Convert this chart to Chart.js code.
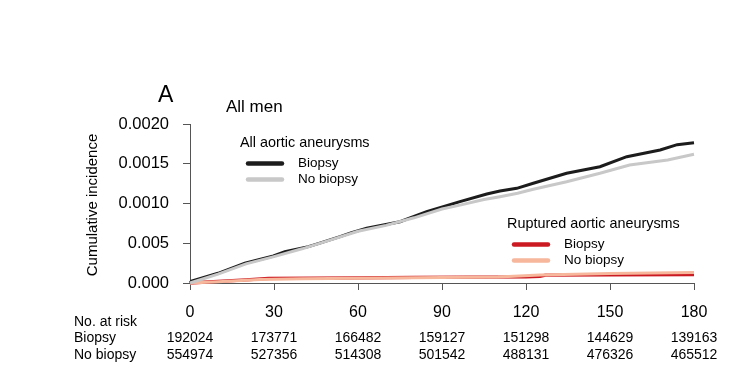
<!DOCTYPE html>
<html>
<head>
<meta charset="utf-8">
<script src="https://cdn.jsdelivr.net/npm/chart.js@4.4.1/dist/chart.umd.min.js"></script>
<style>
  html, body { margin: 0; padding: 0; background: #ffffff; }
  #wrap { width: 745px; height: 376px; }
</style>
</head>
<body>
<div id="wrap"><canvas id="c" width="745" height="376"></canvas></div>
<script>
// ---- Data ----
const xTickValues = [0, 30, 60, 90, 120, 150, 180];
const xTickLabels = ['0', '30', '60', '90', '120', '150', '180'];
const yTickLabels = ['0.000', '0.005', '0.0010', '0.0015', '0.0020'];

// All aortic aneurysms, Biopsy (black)
const allBiopsyDays = [0, 0.6, 10, 19.6, 29.8, 33.9, 42.3, 45.8, 53.6, 57.7, 63.1, 75, 84.5, 96.4, 106, 110.7, 116.7, 122.6, 134.5, 146.4, 156, 167.9, 174, 180];
const allBiopsyVals = [0, 0.000025, 0.000122, 0.000248, 0.00034, 0.000394, 0.000457, 0.000495, 0.000583, 0.000633, 0.000688, 0.000771, 0.000897, 0.001023, 0.00112, 0.001157, 0.001191, 0.001254, 0.00138, 0.001463, 0.001589, 0.001673, 0.00174, 0.001765];

// All aortic aneurysms, No biopsy (grey)
const allNoBiopsyDays = [0, 10, 20, 30, 40, 50, 60, 70, 80, 90, 96.4, 105, 110.7, 117, 122.6, 134.5, 146.4, 157, 170.6, 180];
const allNoBiopsyVals = [0, 0.000112, 0.00024, 0.000332, 0.00043, 0.00054, 0.00065, 0.000725, 0.00082, 0.00093, 0.00098, 0.00105, 0.001086, 0.00113, 0.001179, 0.001274, 0.00138, 0.001484, 0.001547, 0.001619];

// Ruptured aortic aneurysms, Biopsy (red)
const rupBiopsyDays = [0, 10, 20, 28, 45, 60, 80, 100, 120, 125, 127, 150, 180];
const rupBiopsyVals = [0, 0.00002, 0.00004, 0.000058, 0.00006, 0.000065, 0.00007, 0.000073, 0.000078, 0.000085, 0.0001, 0.000103, 0.000105];

// Ruptured aortic aneurysms, No biopsy (pink)
const rupNoBiopsyDays = [0, 10, 25, 40, 60, 90, 110, 125, 150, 180];
const rupNoBiopsyVals = [0, 0.000016, 0.000044, 0.000054, 0.00006, 0.00007, 0.000077, 0.0001, 0.00012, 0.000132];

// Number at risk table
const riskDays = [0, 30, 60, 90, 120, 150, 180];
const riskBiopsy = ['192024', '173771', '166482', '159127', '151298', '144629', '139163'];
const riskNoBiopsy = ['554974', '527356', '514308', '501542', '488131', '476326', '465512'];

// ---- Styles ----
const FONT = '"Liberation Sans", Arial, Helvetica, sans-serif';
const C_BLACK = '#1c1c1c';
const C_GREY = '#c8c8c8';
const C_RED = '#cc1a22';
const C_PINK = '#f6b79d';
const AXIS_C = '#555555';

function pts(days, vals) { return days.map((d, i) => ({ x: d, y: vals[i] })); }

const overlay = {
  id: 'overlay',
  afterDraw(chart) {
    const ctx = chart.ctx;
    const xs = chart.scales.x;
    ctx.save();
    ctx.fillStyle = '#000';
    ctx.textBaseline = 'alphabetic';

    // Panel letter and title
    ctx.font = '23px ' + FONT;
    ctx.textAlign = 'left';
    ctx.fillText('A', 158, 102);
    ctx.font = '17px ' + FONT;
    ctx.fillText('All men', 226, 112);

    // Y axis title
    ctx.save();
    ctx.translate(97, 205);
    ctx.rotate(-Math.PI / 2);
    ctx.textAlign = 'center';
    ctx.font = '15px ' + FONT;
    ctx.fillText('Cumulative incidence', 0, 0);
    ctx.restore();

    // Legends
    function legendLine(x1, x2, y, color) {
      ctx.beginPath();
      ctx.strokeStyle = color;
      ctx.lineWidth = 4.5;
      ctx.lineCap = 'round';
      ctx.moveTo(x1, y); ctx.lineTo(x2, y); ctx.stroke();
    }
    ctx.textAlign = 'left';
    ctx.font = '14.4px ' + FONT;
    ctx.fillText('All aortic aneurysms', 240, 147);
    ctx.fillText('Ruptured aortic aneurysms', 507, 228);
    ctx.font = '13.5px ' + FONT;
    ctx.textBaseline = 'middle';
    legendLine(248, 282, 163.5, C_BLACK);
    legendLine(248, 282, 179.5, C_GREY);
    ctx.fillText('Biopsy', 298, 163.5);
    ctx.fillText('No biopsy', 298, 179.5);
    legendLine(514, 548, 244.5, C_RED);
    legendLine(514, 548, 260.5, C_PINK);
    ctx.fillText('Biopsy', 564, 244.5);
    ctx.fillText('No biopsy', 564, 260.5);

    // Number at risk table
    ctx.textBaseline = 'alphabetic';
    ctx.font = '14px ' + FONT;
    ctx.textAlign = 'left';
    ctx.fillText('No. at risk', 74, 325.7);
    ctx.fillText('Biopsy', 74, 342);
    ctx.fillText('No biopsy', 74, 358.5);
    ctx.textAlign = 'center';
    riskDays.forEach((d, i) => {
      const px = xs.getPixelForValue(d);
      ctx.fillText(riskBiopsy[i], px, 342);
      ctx.fillText(riskNoBiopsy[i], px, 358.5);
    });
    ctx.restore();
  }
};

const axisCommon = {
  grid: { drawOnChartArea: false, drawTicks: true, tickLength: 7, color: AXIS_C, lineWidth: 1 },
  border: { display: true, color: AXIS_C, width: 1 }
};

new Chart(document.getElementById('c'), {
  type: 'line',
  data: {
    datasets: [
      { label: 'All – No biopsy', data: pts(allNoBiopsyDays, allNoBiopsyVals), borderColor: C_GREY, borderWidth: 3, pointRadius: 0, tension: 0, clip: 6 },
      { label: 'All – Biopsy', data: pts(allBiopsyDays, allBiopsyVals), borderColor: C_BLACK, borderWidth: 3, pointRadius: 0, tension: 0, clip: 6 },
      { label: 'Ruptured – No biopsy', data: pts(rupNoBiopsyDays, rupNoBiopsyVals), borderColor: C_PINK, borderWidth: 3, pointRadius: 0, tension: 0, clip: 6 },
      { label: 'Ruptured – Biopsy', data: pts(rupBiopsyDays, rupBiopsyVals), borderColor: C_RED, borderWidth: 3.3, pointRadius: 0, tension: 0, clip: 6 }
    ]
  },
  options: {
    responsive: false,
    animation: false,
    devicePixelRatio: 1,
    layout: { padding: { left: 0, top: 124, right: 51, bottom: 0 } },
    plugins: { legend: { display: false }, tooltip: { enabled: false } },
    scales: {
      x: Object.assign({}, axisCommon, {
        type: 'linear', min: 0, max: 180,
        afterBuildTicks: (s) => { s.ticks = xTickValues.map(v => ({ value: v })); },
        afterFit: (s) => { s.height = 93; },
        ticks: {
          color: '#000', font: { family: FONT, size: 16 }, padding: 13, maxRotation: 0, autoSkip: false,
          callback: (v, i) => xTickLabels[i]
        }
      }),
      y: Object.assign({}, axisCommon, {
        type: 'linear', min: 0, max: 0.002,
        afterBuildTicks: (s) => { s.ticks = [0, 0.0005, 0.001, 0.0015, 0.002].map(v => ({ value: v })); },
        afterFit: (s) => { s.width = 190; },
        ticks: {
          color: '#000', font: { family: FONT, size: 16.5 }, padding: 14, autoSkip: false,
          callback: (v, i) => yTickLabels[i]
        }
      })
    }
  },
  plugins: [overlay]
});
</script>
</body>
</html>
